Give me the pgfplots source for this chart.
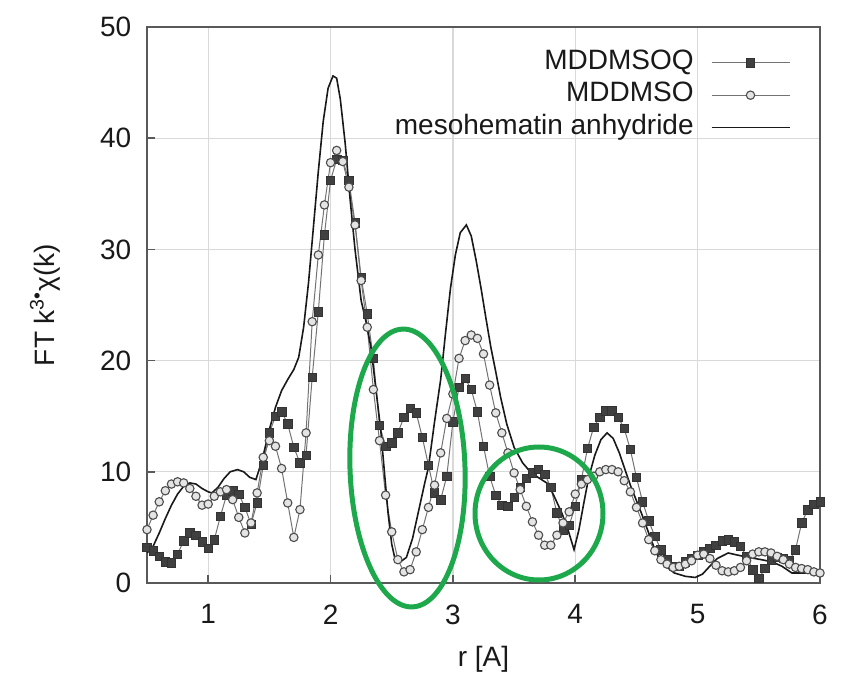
\documentclass[border=0pt]{standalone}
\usepackage{fontspec}
\setmainfont{Liberation Sans}
\usepackage{pgfplots}
\pgfplotsset{compat=1.18}
\definecolor{ellgreen}{RGB}{30,168,76}
\definecolor{sqfill}{RGB}{64,64,64}
\definecolor{cifill}{RGB}{228,228,228}
\pgfplotstableread{
x y
0.50 3.2
0.55 2.9
0.60 2.4
0.65 1.9
0.70 1.8
0.75 2.6
0.80 3.8
0.85 4.5
0.90 4.3
0.95 3.7
1.00 3.1
1.05 3.9
1.10 6.0
1.15 7.9
1.20 8.3
1.25 8.0
1.30 6.8
1.35 5.3
1.40 7.2
1.45 10.6
1.50 13.5
1.55 15.0
1.60 15.4
1.65 14.3
1.70 12.2
1.75 10.8
1.80 11.5
1.85 18.5
1.90 24.4
1.95 31.3
2.00 36.2
2.05 38.1
2.10 38.0
2.15 36.2
2.20 32.4
2.25 27.5
2.30 24.2
2.35 20.2
2.40 14.2
2.45 12.3
2.50 12.6
2.55 13.5
2.60 14.9
2.65 15.7
2.70 15.3
2.75 13.1
2.80 10.6
2.85 8.1
2.90 7.5
2.95 9.6
3.00 14.5
3.05 17.6
3.10 18.4
3.15 17.4
3.20 15.4
3.25 12.3
3.30 9.6
3.35 7.9
3.40 7.0
3.45 6.9
3.50 7.7
3.55 8.6
3.60 9.4
3.65 9.9
3.70 10.2
3.75 9.8
3.80 8.6
3.85 6.3
3.90 4.8
3.95 5.2
4.00 6.9
4.05 9.3
4.10 12.1
4.15 14.0
4.20 14.9
4.25 15.5
4.30 15.5
4.35 14.9
4.40 13.9
4.45 12.0
4.50 9.5
4.55 7.3
4.60 5.6
4.65 4.2
4.70 3.0
4.75 2.1
4.80 1.5
4.85 1.5
4.90 1.9
4.95 2.2
5.00 2.5
5.05 2.8
5.10 3.1
5.15 3.4
5.20 3.8
5.25 3.9
5.30 3.7
5.35 3.3
5.40 2.4
5.45 1.2
5.50 0.4
5.55 1.3
5.60 2.1
5.65 2.3
5.70 2.2
5.75 2.0
5.80 3.0
5.85 5.4
5.90 6.6
5.95 7.1
6.00 7.3
}\sqdata
\pgfplotstableread{
x y
0.50 4.8
0.55 6.1
0.60 7.3
0.65 8.3
0.70 8.9
0.75 9.1
0.80 9.0
0.85 8.5
0.90 7.8
0.95 7.0
1.00 7.1
1.05 7.8
1.10 8.2
1.15 8.4
1.20 7.5
1.25 5.9
1.30 4.5
1.35 5.4
1.40 8.1
1.45 11.3
1.50 12.8
1.55 12.3
1.60 10.3
1.65 7.2
1.70 4.1
1.75 6.6
1.80 13.5
1.85 23.5
1.90 29.5
1.95 34.0
2.00 37.8
2.05 38.9
2.10 37.9
2.15 35.6
2.20 32.2
2.25 27.2
2.30 23.0
2.35 17.4
2.40 12.8
2.45 7.9
2.50 4.6
2.55 2.1
2.60 1.0
2.65 1.2
2.70 2.8
2.75 4.8
2.80 6.8
2.85 8.8
2.90 11.7
2.95 14.8
3.00 17.0
3.05 20.2
3.10 21.8
3.15 22.3
3.20 22.0
3.25 20.6
3.30 17.8
3.35 15.3
3.40 13.5
3.45 11.7
3.50 9.9
3.55 8.4
3.60 6.9
3.65 5.5
3.70 4.3
3.75 3.4
3.80 3.4
3.85 4.3
3.90 5.4
3.95 6.4
4.00 8.0
4.05 8.9
4.10 9.3
4.15 9.6
4.20 10.0
4.25 10.2
4.30 10.2
4.35 10.0
4.40 9.2
4.45 8.2
4.50 6.8
4.55 5.4
4.60 3.9
4.65 2.9
4.70 2.1
4.75 1.7
4.80 1.4
4.85 1.5
4.90 1.7
4.95 2.0
5.00 2.5
5.05 2.6
5.10 2.2
5.15 1.6
5.20 1.1
5.25 1.0
5.30 1.1
5.35 1.4
5.40 2.0
5.45 2.6
5.50 2.8
5.55 2.8
5.60 2.7
5.65 2.4
5.70 2.1
5.75 1.7
5.80 1.4
5.85 1.3
5.90 1.2
5.95 1.0
6.00 0.9
}\cidata
\pgfplotstableread{
x y
0.50 2.7
0.55 3.3
0.60 4.5
0.65 5.8
0.70 7.0
0.75 8.0
0.80 8.7
0.85 9.0
0.90 8.9
0.95 8.5
1.00 8.2
1.03 8.1
1.08 8.6
1.13 9.4
1.18 10.0
1.24 10.2
1.29 10.0
1.34 9.5
1.39 9.3
1.44 11.0
1.50 13.8
1.55 15.8
1.60 17.3
1.65 18.3
1.70 19.2
1.74 20.3
1.78 23.0
1.82 27.0
1.86 32.0
1.90 37.0
1.94 41.5
1.98 44.5
2.02 45.6
2.05 45.4
2.08 43.5
2.12 39.5
2.16 34.5
2.20 30.0
2.25 25.4
2.29 23.5
2.33 21.2
2.37 17.5
2.41 13.8
2.44 10.0
2.47 6.3
2.50 3.5
2.53 2.0
2.57 1.9
2.62 2.3
2.67 4.0
2.72 6.5
2.77 9.0
2.80 10.4
2.85 14.5
2.90 18.3
2.94 22.5
2.98 26.5
3.02 29.5
3.06 31.5
3.11 32.2
3.15 31.2
3.19 29.0
3.23 26.5
3.27 23.8
3.31 21.2
3.35 19.0
3.39 16.7
3.44 14.3
3.50 12.2
3.57 10.8
3.64 9.9
3.71 9.4
3.78 8.9
3.84 7.5
3.89 6.3
3.94 4.8
3.99 3.0
4.03 4.8
4.07 7.2
4.11 9.5
4.16 11.5
4.21 12.9
4.26 13.5
4.31 13.0
4.36 11.7
4.40 10.4
4.45 8.8
4.50 7.4
4.54 6.3
4.59 4.8
4.64 3.3
4.68 2.3
4.74 1.5
4.81 0.9
4.90 0.6
4.98 0.5
5.04 0.8
5.09 1.4
5.16 2.2
5.25 2.7
5.33 2.5
5.42 2.3
5.52 2.1
5.61 1.9
5.69 1.5
5.77 0.9
5.88 0.9
6.00 0.9
}\mhdata
\begin{document}
\fontsize{14}{16}\selectfont
\begin{tikzpicture}
\useasboundingbox (-73.5pt,-46pt) rectangle (355pt,291.5pt);
\begin{axis}[
  at={(0pt,0pt)}, anchor=south west,
  width=336.5pt, height=278pt, scale only axis,
  xmin=0.5, xmax=6, ymin=0, ymax=50,
  xtick={1,2,3,4,5,6}, ytick={0,10,20,30,40,50},
  grid=major, major grid style={black!15, line width=0.6pt},
  axis line style={black!65, line width=0.9pt},
  tick style={black!65, line width=0.8pt},
  tick align=inside, major tick length=4pt, tick pos=left,
  /pgf/number format/assume math mode=true,
  tick label style={font=\fontsize{14}{16}\selectfont, text=black!90},
  xticklabel style={yshift=-6pt},
  yticklabel style={xshift=-3pt},
  xlabel={r [A]}, ylabel={FT k\textsuperscript{3•}χ(k)},
  label style={font=\fontsize{14}{16}\selectfont, text=black!90},
  xlabel style={at={(axis description cs:0.5,-0.137)}, anchor=center},
  ylabel style={at={(axis description cs:-0.1516,0.5)}, anchor=center},
  legend plot pos=right, legend cell align=right,
  legend style={at={(rel axis cs:0.9654,0.968)}, anchor=north east, draw=none, fill=none,
    font=\fontsize{14}{16}\selectfont, text=black!90,
    nodes={inner sep=0pt, text height=10pt, text depth=3.5pt},
    row sep=2.75pt, column sep=8.5pt},
  legend image code/.code={\draw[mark repeat=2,mark phase=2,#1] plot coordinates {(0pt,0pt) (19.5pt,0pt) (39pt,0pt)};},
]
\addplot[black!55, line width=0.5pt, mark=square*, mark size=2.1pt,
  mark options={draw=black!80, fill=sqfill, line width=0.3pt}] table {\sqdata};
\addlegendentry{MDDMSOQ}
\addplot[black!55, line width=0.5pt, mark=*, mark size=2.1pt,
  mark options={draw=black!70, fill=cifill, line width=0.55pt}] table {\cidata};
\addlegendentry{MDDMSO}
\addplot[black!90, line width=0.8pt, mark=none] table {\mhdata};
\addlegendentry{mesohematin anhydride}
\end{axis}
\draw[ellgreen, line width=2.5pt, rotate around={2:(130.25pt,57.5pt)}] (130.25pt,57.5pt) ellipse [x radius=28.75pt, y radius=69.5pt];
\draw[ellgreen, line width=2.5pt] (196pt,34.75pt) ellipse [x radius=32pt, y radius=33.25pt];
\end{tikzpicture}
\end{document}
